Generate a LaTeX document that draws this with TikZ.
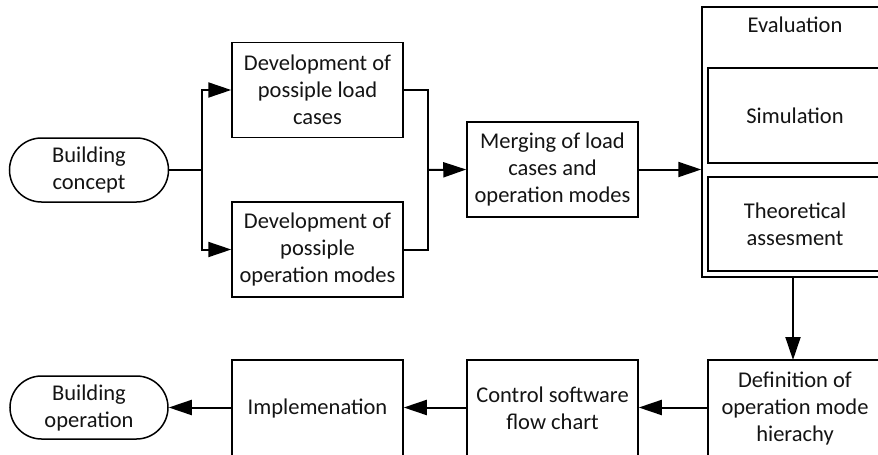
\documentclass[tikz,border=0pt]{standalone}
\usepackage{fontspec}
\setmainfont{Carlito}
\usetikzlibrary{arrows.meta,shapes.misc}
\begin{document}
\begin{tikzpicture}[x=1pt,y=-1pt,
  every node/.style={font=\fontsize{22.5}{27}\selectfont, text=black!92, align=center, inner sep=0pt},
  procbox/.style={draw, line width=1.5pt, minimum width=171pt, minimum height=95pt},
  widebox/.style={draw, line width=1.5pt, minimum width=174pt, minimum height=95pt},
  terminal/.style={draw, line width=1.5pt, rounded rectangle, minimum width=159pt, minimum height=64pt},
  container/.style={draw, line width=1.5pt, minimum width=186pt, minimum height=270pt},
  conn/.style={line width=2pt},
  arr/.style={conn, -{Triangle[length=23pt 0,width=15pt 0]}}
]
\useasboundingbox (0,0) rectangle (878,455);
\clip (0,0) rectangle (878,455);
\fill[white] (0,0) rectangle (878,455);

% top row
\node[terminal] (bc) at (89,170) {Building\\concept};
\node[procbox] (lc) at (317.5,90) {Development of\\possiple load\\cases};
\node[procbox] (om) at (317.5,249.5) {Development of\\possiple\\operation modes};
\node[procbox] (mg) at (552.5,169.5) {Merging of load\\cases and\\operation modes};

% evaluation container
\node[container] (ev) at (795,142) {};
\node (evt) at (795,25) {Evaluation};
\node[widebox] (sim) at (795,115.5) {Simulation};
\node[widebox, minimum height=94pt] (theo) at (795,224) {Theoretical\\assesment};

% bottom row
\node[widebox, minimum height=97pt] (def) at (795,408.5) {Definition of\\operation mode\\hierachy};
\node[procbox, minimum height=97pt] (cs) at (552.5,408.5) {Control software\\flow chart};
\node[procbox, minimum height=97pt] (im) at (317.5,408.5) {Implemenation};
\node[terminal, minimum width=158pt, minimum height=63pt] (bo) at (89,407.5) {Building\\operation};

% connectors
\coordinate (split) at (202,170);
\coordinate (join) at (428,170);
\draw[conn] (bc.east) -- (split);
\draw[arr] (split) |- (lc.west);
\draw[arr] (split) |- (om.west);
\draw[conn] (lc.east) -| (join);
\draw[conn] (om.east) -| (join);
\draw[arr] (join) -- (mg.west);
\draw[arr] (mg.east) -- (mg.east -| ev.west);
\draw[arr] (ev.south -| 793,0) -- (793,360);
\draw[arr] (def.west |- 0,407.5) -- (cs.east |- 0,407.5);
\draw[arr] (cs.west |- 0,407.5) -- (im.east |- 0,407.5);
\draw[arr] (im.west |- 0,407.5) -- (bo.east);
\end{tikzpicture}
\end{document}
